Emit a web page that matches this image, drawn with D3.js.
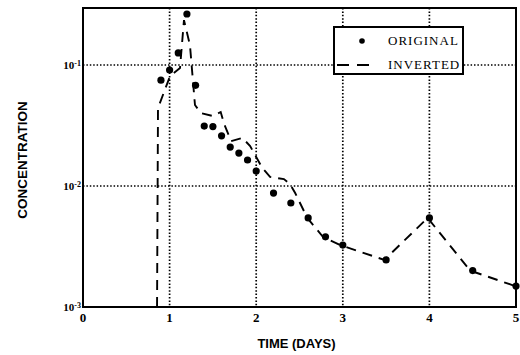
<!DOCTYPE html>
<html>
<head>
<meta charset="utf-8">
<script src="https://cdn.jsdelivr.net/npm/d3@7"></script>
<style>
  html, body { margin: 0; padding: 0; background: #fff; }
  svg { display: block; }
</style>
</head>
<body>
<svg id="chart" width="520" height="355"></svg>
<script>
// Measured concentrations (dots)
const origTime = [0.9, 1.0, 1.1, 1.2, 1.3, 1.4, 1.5, 1.6, 1.7, 1.8, 1.9, 2.0,
                  2.2, 2.4, 2.6, 2.8, 3.0, 3.5, 4.0, 4.5, 5.0];
const origConc = [0.075, 0.091, 0.126, 0.264, 0.068, 0.0313, 0.031, 0.026, 0.021, 0.0187, 0.0164, 0.0133,
                  0.00875, 0.00724, 0.00545, 0.0038, 0.00325, 0.00245, 0.00545, 0.0020, 0.00149];

// Inverted solution (dashed polyline)
const invTime = [0.855, 0.866, 1.005, 1.12, 1.166, 1.235, 1.293, 1.36, 1.50, 1.59, 1.63, 1.71,
                 1.84, 1.93, 2.07, 2.16, 2.32, 2.39, 2.45, 2.59, 2.77, 2.97, 3.48, 3.98, 4.47, 4.99];
const invConc = [0.001, 0.0441, 0.081, 0.0944, 0.235, 0.146, 0.0467, 0.0401, 0.0379, 0.0409, 0.0325, 0.0235,
                 0.025, 0.0214, 0.0141, 0.0119, 0.0114, 0.0104, 0.00875, 0.00545, 0.0038, 0.00325, 0.00245, 0.00545, 0.0020, 0.00149];

const xTicks = [0, 1, 2, 3, 4, 5];
const yTicks = [0.001, 0.01, 0.1];
const yTickExp = ["-3", "-2", "-1"];
const legendLabels = ["ORIGINAL", "INVERTED"];

const svg = d3.select("#chart");
const pL = 83, pR = 516, pT = 8, pB = 307;

const x = d3.scaleLinear().domain([0, 5]).range([pL, pR]);
const y = d3.scaleLog().domain([0.001, 0.296]).range([pB, pT]);

// dotted grid
const grid = svg.append("g")
  .attr("stroke", "#000").attr("stroke-width", 1.7)
  .attr("stroke-dasharray", "1.5,1.9");
grid.selectAll("line.v").data(xTicks.filter(d => d > 0 && d < 5)).join("line")
  .attr("class", "v")
  .attr("x1", d => x(d)).attr("x2", d => x(d))
  .attr("y1", pT).attr("y2", pB);
grid.selectAll("line.h").data(yTicks.filter(d => d > 0.001)).join("line")
  .attr("class", "h")
  .attr("x1", pL).attr("x2", pR)
  .attr("y1", d => y(d)).attr("y2", d => y(d));

// frame
svg.append("rect")
  .attr("x", pL).attr("y", pT)
  .attr("width", pR - pL).attr("height", pB - pT)
  .attr("fill", "none").attr("stroke", "#000").attr("stroke-width", 2);

// inverted curve
const line = d3.line().x(d => x(d[0])).y(d => y(d[1]));
svg.append("path")
  .datum(invTime.map((t, i) => [t, invConc[i]]))
  .attr("d", line)
  .attr("fill", "none").attr("stroke", "#000").attr("stroke-width", 1.9)
  .attr("stroke-dasharray", "10,7");

// original points
svg.append("g").selectAll("circle")
  .data(origTime.map((t, i) => [t, origConc[i]]))
  .join("circle")
  .attr("cx", d => x(d[0])).attr("cy", d => y(d[1]))
  .attr("r", 3.6).attr("fill", "#000");

// x tick labels
svg.append("g").selectAll("text")
  .data(xTicks).join("text")
  .attr("x", d => x(d)).attr("y", pB + 15)
  .attr("text-anchor", "middle")
  .attr("font-family", "'Liberation Serif', serif")
  .attr("font-weight", "bold").attr("font-size", 13)
  .text(d => d);

// y tick labels as 10 with superscript exponent
const yl = svg.append("g").selectAll("text")
  .data(yTicks).join("text")
  .attr("x", pL - 2).attr("y", d => y(d) + 4)
  .attr("text-anchor", "end")
  .attr("font-family", "'Liberation Serif', serif")
  .attr("font-weight", "bold").attr("font-size", 11);
yl.append("tspan").text("10");
yl.append("tspan").attr("dy", -3).attr("font-size", 8).text((d, i) => yTickExp[i]);

// axis titles
svg.append("text")
  .attr("x", (pL + pR) / 2 - 3).attr("y", 348)
  .attr("text-anchor", "middle")
  .attr("font-family", "'Liberation Sans', Arial, sans-serif")
  .attr("font-weight", "bold").attr("font-size", 13)
  .text("TIME (DAYS)");

svg.append("text")
  .attr("transform", "translate(27,160) rotate(-90)")
  .attr("text-anchor", "middle")
  .attr("font-family", "'Liberation Sans', Arial, sans-serif")
  .attr("font-weight", "bold").attr("font-size", 13.5)
  .text("CONCENTRATION");

// legend
const lg = svg.append("g");
lg.append("rect")
  .attr("x", 334).attr("y", 27).attr("width", 129).attr("height", 47)
  .attr("fill", "#fff").attr("stroke", "#000").attr("stroke-width", 2);
lg.append("circle").attr("cx", 362).attr("cy", 41).attr("r", 2.8).attr("fill", "#000");
lg.append("line")
  .attr("x1", 337).attr("x2", 369).attr("y1", 65).attr("y2", 65)
  .attr("stroke", "#000").attr("stroke-width", 1.9).attr("stroke-dasharray", "12,8");
lg.selectAll("text.lab").data(legendLabels).join("text")
  .attr("class", "lab")
  .attr("x", 388).attr("y", (d, i) => 45 + i * 24)
  .attr("font-family", "'Liberation Serif', serif")
  .attr("font-size", 13).attr("letter-spacing", 1)
  .text(d => d);
</script>
</body>
</html>
